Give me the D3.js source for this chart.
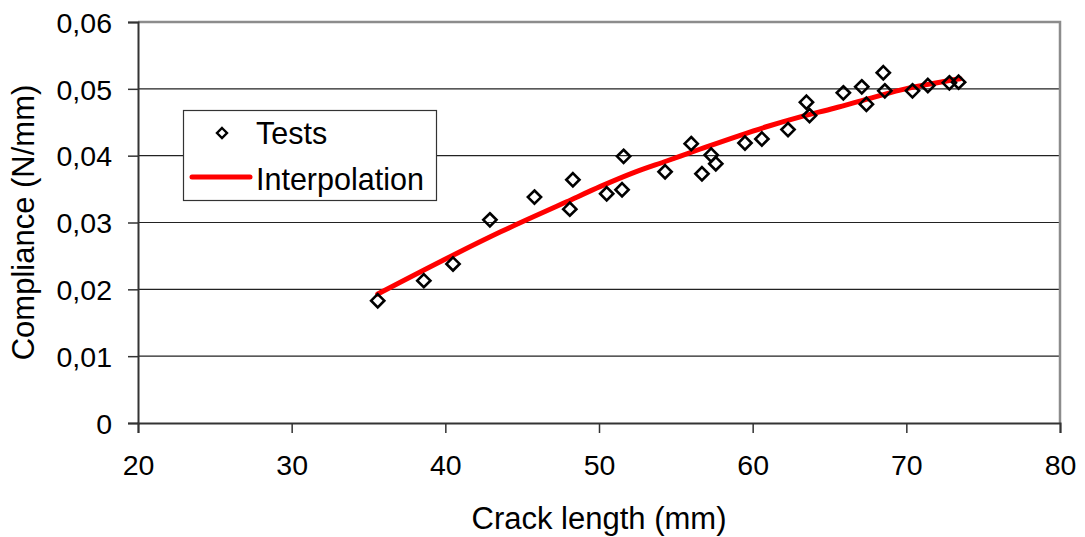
<!DOCTYPE html>
<html>
<head>
<meta charset="utf-8">
<script src="https://cdn.jsdelivr.net/npm/d3@7"></script>
<style>
    body { margin: 0; background: #fff; }
    svg { display: block; font-family: "Liberation Sans", Arial, sans-serif; }
</style>
</head>
<body>
<div id="chart"></div>
<script>
// Test points (crack length mm, compliance N/mm)
const testLength = [35.6, 38.6, 40.5, 42.9, 45.8, 48.1, 48.3, 50.5, 51.5, 51.6,
    54.3, 56.0, 56.7, 57.3, 57.6, 59.5, 60.6, 62.3, 63.5, 63.7,
    65.9, 67.1, 67.4, 68.5, 68.6, 70.4, 71.4, 72.8, 73.4];
const testCompliance = [0.0183, 0.0213, 0.0238, 0.0304, 0.0338, 0.0320, 0.0364, 0.0343, 0.0349, 0.0399,
    0.0376, 0.0418, 0.0373, 0.0401, 0.0388, 0.0419, 0.0425, 0.0439, 0.0480, 0.0460,
    0.0494, 0.0503, 0.0477, 0.0524, 0.0497, 0.0497, 0.0505, 0.0509, 0.0510];

// Interpolation curve
const fitLength = [35.6, 40.5, 43.6, 47.9, 50.1, 52.3, 54.4, 56.6, 61.0, 63.1, 65.3, 67.5, 69.6, 73.5];
const fitCompliance = [0.0193, 0.0251, 0.0286, 0.0331, 0.0354, 0.0375, 0.0392, 0.0410, 0.0444, 0.0458, 0.0471, 0.0485, 0.0498, 0.0515];

const xTicks = [20, 30, 40, 50, 60, 70, 80];
const yTicks = [0, 0.01, 0.02, 0.03, 0.04, 0.05, 0.06];

const width = 1085;
const height = 537;
const margin = {top: 22, right: 25, bottom: 114, left: 138};
const plotW = width - margin.left - margin.right;
const plotH = height - margin.top - margin.bottom;

const x = d3.scaleLinear().domain([20, 80]).range([0, plotW]);
const y = d3.scaleLinear().domain([0, 0.06]).range([plotH, 0]);

const svg = d3.select("#chart").append("svg")
    .attr("width", width)
    .attr("height", height);

const g = svg.append("g")
    .attr("transform", "translate(" + margin.left + "," + margin.top + ")");

// gridlines
g.append("g")
    .selectAll("line")
    .data(yTicks.filter(d => d > 0 && d < 0.06))
    .enter().append("line")
    .attr("x1", 0)
    .attr("x2", plotW)
    .attr("y1", d => y(d))
    .attr("y2", d => y(d))
    .style("stroke", "#222")
    .style("stroke-width", 1.2);

// plot border (top / right in grey)
g.append("path")
    .attr("d", "M0," + y(0.06) + "H" + plotW + "V" + plotH)
    .style("fill", "none")
    .style("stroke", "#8c8c8c")
    .style("stroke-width", 2.5);

const fmtY = d => d === 0 ? "0" : d3.format(".2f")(d).replace(".", ",");

const xAxis = g.append("g")
    .attr("transform", "translate(0," + plotH + ")")
    .call(d3.axisBottom(x).tickValues(xTicks).tickSize(10).tickPadding(22).tickFormat(d3.format("d")));

const yAxis = g.append("g")
    .call(d3.axisLeft(y).tickValues(yTicks).tickSize(10).tickPadding(16).tickFormat(fmtY));

[xAxis, yAxis].forEach(function (ax) {
    ax.select(".domain").style("stroke", "#333").style("stroke-width", 2);
    ax.selectAll(".tick line").style("stroke", "#333").style("stroke-width", 1.5);
    ax.selectAll("text")
        .style("font-size", "28.5px")
        .style("fill", "#000")
        .style("font-family", "'Liberation Sans', Arial, sans-serif");
});
yAxis.selectAll("text").attr("dy", "0.36em");

// interpolation curve
const line = d3.line()
    .x(i => x(fitLength[i]))
    .y(i => y(fitCompliance[i]))
    .curve(d3.curveMonotoneX);

g.append("path")
    .attr("d", line(d3.range(fitLength.length)))
    .style("fill", "none")
    .style("stroke", "#ff0000")
    .style("stroke-width", 5)
    .style("stroke-linecap", "round");

// test markers
const diamond = function (r) {
    return "M0," + (-r) + "L" + r + ",0L0," + r + "L" + (-r) + ",0Z";
};

g.append("g")
    .selectAll("path")
    .data(d3.range(testLength.length))
    .enter().append("path")
    .attr("transform", i => "translate(" + x(testLength[i]) + "," + y(testCompliance[i]) + ")")
    .attr("d", diamond(6.6))
    .style("fill", "none")
    .style("stroke", "#000")
    .style("stroke-width", 2.6);

// axis titles
svg.append("text")
    .attr("x", margin.left + plotW / 2)
    .attr("y", 529)
    .attr("text-anchor", "middle")
    .style("font-size", "31px")
    .text("Crack length (mm)");

svg.append("text")
    .attr("transform", "translate(34," + (margin.top + plotH / 2) + ") rotate(-90)")
    .attr("text-anchor", "middle")
    .style("font-size", "31px")
    .text("Compliance (N/mm)");

// legend
const legend = svg.append("g");
legend.append("rect")
    .attr("x", 183.5)
    .attr("y", 110.5)
    .attr("width", 253)
    .attr("height", 90)
    .style("fill", "#fff")
    .style("stroke", "#333")
    .style("stroke-width", 1.2);

legend.append("path")
    .attr("transform", "translate(222,133)")
    .attr("d", diamond(5))
    .style("fill", "none")
    .style("stroke", "#000")
    .style("stroke-width", 2.4);

legend.append("text")
    .attr("x", 256)
    .attr("y", 144)
    .style("font-size", "30.5px")
    .text("Tests");

legend.append("line")
    .attr("x1", 192)
    .attr("x2", 250)
    .attr("y1", 177)
    .attr("y2", 177)
    .style("stroke", "#ff0000")
    .style("stroke-width", 5)
    .style("stroke-linecap", "round");

legend.append("text")
    .attr("x", 256)
    .attr("y", 190)
    .style("font-size", "30.5px")
    .text("Interpolation");
</script>
</body>
</html>
